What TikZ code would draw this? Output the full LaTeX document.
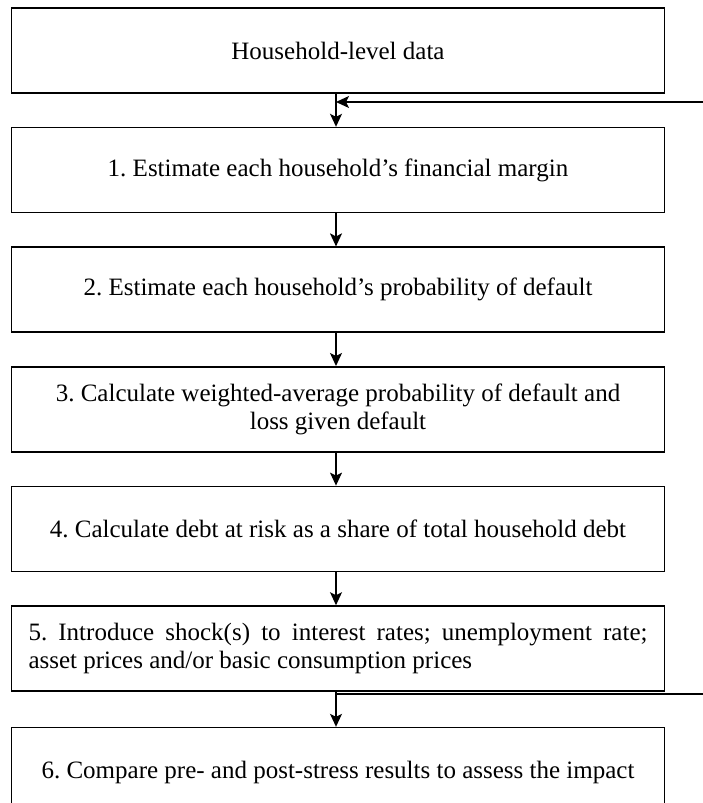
\documentclass[tikz,border=0pt]{standalone}
\usepackage{fontspec}
\setmainfont{Liberation Serif}
\usepackage{tikz}
\usetikzlibrary{arrows.meta, positioning}
\frenchspacing

\begin{document}
\begin{tikzpicture}[
    x=1pt, y=1pt,
    stepbox/.style={draw, line width=1.6pt, minimum width=653pt, minimum height=85pt, inner sep=0pt, font=\fontsize{25}{28.5}\selectfont, align=center},
    flow/.style={-{Stealth[length=13pt, width=12pt, inset=3pt]}, line width=1.3pt},
    node distance=33pt
]

% Page frame
\useasboundingbox (0,0) rectangle (703,-803);

% Steps, top to bottom
\node[stepbox] (data) at (338,-50.5) {Household-level data};
\node[stepbox, below=of data] (margin) {1. Estimate each household’s financial margin};
\node[stepbox, below=of margin] (prob) {2. Estimate each household’s probability of default};
\node[stepbox, below=of prob] (wavg) {3. Calculate weighted-average probability of default and\\loss given default};
\node[stepbox, below=of wavg] (risk) {4. Calculate debt at risk as a share of total household debt};
\node[stepbox, below=of risk, text width=619pt, align=justify] (shock) {5. Introduce shock(s) to interest rates; unemployment rate;\linebreak asset prices and/or basic consumption prices};
\node[stepbox, below=35pt of shock, minimum height=90pt] (compare) {6. Compare pre- and post-stress results to assess the impact};

% Arrows between steps
\foreach \a/\b in {data/margin, margin/prob, prob/wavg, wavg/risk, risk/shock, shock/compare}
    \draw[flow] ([xshift=-2pt]\a.south) -- ([xshift=-2pt]\b.north);

% Lines from and to the right edge
\coordinate (loopin) at (703,-102);
\coordinate (loopout) at (703,-694);
\draw[flow] (loopin) -- ([xshift=-2pt]loopin -| data.south);
\draw[line width=1.3pt] ([xshift=-2pt]loopout -| shock.south) -- (loopout);

\end{tikzpicture}
\end{document}
